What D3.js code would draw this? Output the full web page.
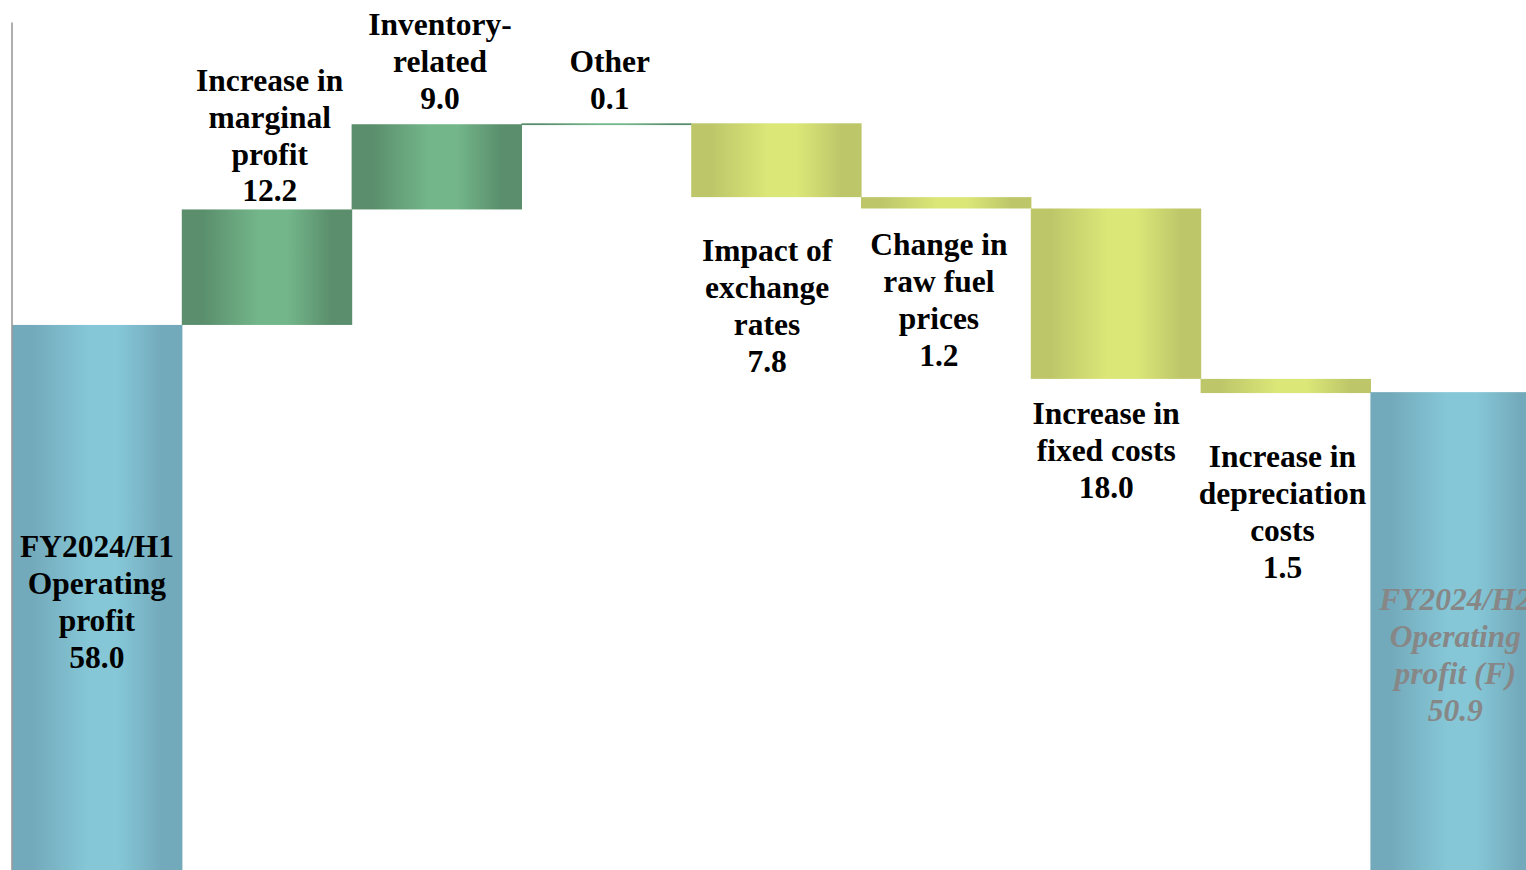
<!DOCTYPE html>
<html>
<head>
<meta charset="utf-8">
<script src="https://cdn.jsdelivr.net/npm/d3@7"></script>
<style>
  html, body { margin: 0; padding: 0; background: #ffffff; overflow: hidden; }
  svg { display: block; }
</style>
</head>
<body>
<svg id="chart" width="1526" height="870"></svg>
<script>
// ---- Data ----
const categories = [
  ["FY2024/H1", "Operating", "profit"],
  ["Increase in", "marginal", "profit"],
  ["Inventory-", "related"],
  ["Other"],
  ["Impact of", "exchange", "rates"],
  ["Change in", "raw fuel", "prices"],
  ["Increase in", "fixed costs"],
  ["Increase in", "depreciation", "costs"],
  ["FY2024/H2", "Operating", "profit (F)"]
];
const values = [58.0, 12.2, 9.0, 0.1, -7.8, -1.2, -18.0, -1.5, 50.9];
const kinds = ["total", "up", "up", "up", "down", "down", "down", "down", "total"];
const yTicks = [];

// ---- Layout (not data) ----
const W = 1526, H = 870;
const lineH = 36.9;
// label offset: [dx, dy] relative to anchor (see code)
const labelOffset = [
  [0, 232], [3, -8], [3.5, -15], [3.5, -14],
  [-9, 64], [-7, 47], [-9.5, 45], [-3, 74], [0, 218]
];

const svg = d3.select("#chart");
const defs = svg.append("defs");

function grad(id, edge, mid) {
  const g = defs.append("linearGradient").attr("id", id)
    .attr("x1", "0%").attr("x2", "100%").attr("y1", "0%").attr("y2", "0%");
  [[0, edge], [0.12, edge], [0.45, mid], [0.62, mid], [0.88, edge], [1, edge]]
    .forEach(([o, c]) => g.append("stop").attr("offset", o).attr("stop-color", c));
}
grad("gTotal", "#73aabb", "#85c7d7");
grad("gUp", "#5a8e6c", "#73b68a");
grad("gDown", "#bdc76a", "#dbe777");

const x = d3.scaleBand().domain(d3.range(values.length)).range([12, 12 + 9 * 169.8]).padding(0);
const y = d3.scaleLinear().domain([0, 90]).range([874, 22]);

// compute waterfall spans
let run = 0;
const bars = values.map((v, i) => {
  let lo, hi;
  if (kinds[i] === "total") { lo = 0; hi = v; run = v; }
  else { const s = run; run = run + v; lo = Math.min(s, run); hi = Math.max(s, run); }
  return { i, v, lo, hi, kind: kinds[i], lines: categories[i] };
});

const fillFor = k => k === "total" ? "url(#gTotal)" : k === "up" ? "url(#gUp)" : "url(#gDown)";

svg.append("g").selectAll("rect").data(bars).join("rect")
  .attr("x", d => x(d.i))
  .attr("width", x.bandwidth() + 0.6)
  .attr("y", d => y(d.hi))
  .attr("height", d => Math.max(1.8, y(d.lo) - y(d.hi)))
  .attr("fill", d => fillFor(d.kind));

// axis line
const axis = d3.axisLeft(y).tickValues(yTicks).tickSizeOuter(0);
const ag = svg.append("g").attr("transform", "translate(11.5,0)").call(axis);
ag.select(".domain").attr("stroke", "#9a9a9a").attr("stroke-width", 1.6);

// labels
const lg = svg.append("g")
  .attr("font-family", "'Liberation Serif', 'Times New Roman', serif")
  .attr("font-weight", "bold")
  .attr("font-size", 31.5)
  .attr("text-anchor", "middle");

bars.forEach(d => {
  const lines = d.lines.concat([Math.abs(d.v).toFixed(1)]);
  const n = lines.length;
  const [dx, dy] = labelOffset[d.i];
  const cx = x(d.i) + x.bandwidth() / 2 + dx;
  let firstBase;
  if (d.kind === "up") firstBase = y(d.hi) + dy - (n - 1) * lineH;
  else if (d.kind === "down") firstBase = y(d.lo) + dy;
  else firstBase = y(d.hi) + dy;
  const t = lg.append("text")
    .attr("fill", d.i === values.length - 1 ? "#878787" : "#000")
    .attr("font-style", d.i === values.length - 1 ? "italic" : "normal");
  lines.forEach((s, k) => {
    t.append("tspan").attr("x", cx).attr("y", firstBase + k * lineH).text(s);
  });
});
</script>
</body>
</html>
